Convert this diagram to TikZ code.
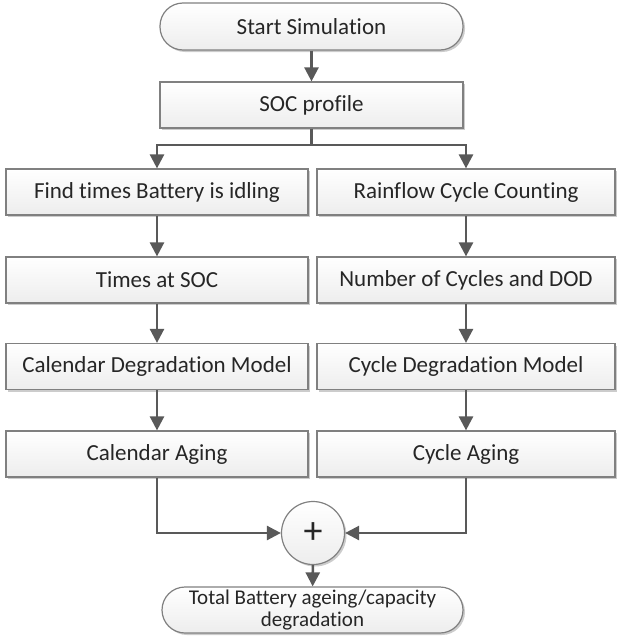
\documentclass[tikz,border=0pt]{standalone}
\usepackage{fontspec}
\setmainfont{Carlito}[Ligatures=NoCommon]
\usetikzlibrary{arrows.meta,shadows}
\definecolor{linegray}{HTML}{595959}
\definecolor{bordergray}{HTML}{808080}
\definecolor{txt}{HTML}{262626}
\tikzset{
  boxstyle/.style={draw=bordergray, line width=1.2pt, top color=white, bottom color=black!7,
    drop shadow={shadow xshift=2pt, shadow yshift=-2pt, opacity=0.2, fill=black},
    inner sep=0pt, text=txt, font=\fontsize{23}{27}\selectfont},
  procbox/.style={boxstyle, rectangle, minimum height=46pt},
  termbox/.style={boxstyle, rectangle, rounded corners=23pt, minimum height=47pt, minimum width=303pt},
  sumnode/.style={boxstyle, circle, minimum size=63pt},
  flow/.style={draw=linegray, line width=2.5pt, -{Triangle[length=14pt,width=14pt]}},
  plain/.style={draw=linegray, line width=2.5pt}
}
\begin{document}
\begin{tikzpicture}[x=1pt,y=1pt]
\useasboundingbox (0,0) rectangle (618,-640);
\node[termbox] (start) at (311.5,-26.5) {Start Simulation};
\node[procbox, minimum width=303pt] (soc) at (311.5,-105) {SOC profile};
\node[procbox, minimum width=302pt] (find) at (157,-192) {Find times Battery is idling};
\node[procbox, minimum width=298pt] (rain) at (466,-192) {Rainflow Cycle Counting};
\node[procbox, minimum width=302pt] (times) at (157,-280) {Times at SOC};
\node[procbox, minimum width=298pt] (ncyc) at (466,-280) {Number of Cycles and DOD};
\node[procbox, minimum width=302pt] (calm) at (157,-366.5) {Calendar Degradation Model};
\node[procbox, minimum width=298pt] (cycm) at (466,-366.5) {Cycle Degradation Model};
\node[procbox, minimum width=302pt] (cala) at (157,-454) {Calendar Aging};
\node[procbox, minimum width=298pt] (cyca) at (466,-454) {Cycle Aging};
\node[sumnode, font=\fontsize{38}{38}\selectfont] (plus) at (313,-533) {+};
\node[termbox, minimum height=46pt, minimum width=301pt, align=center, font=\fontsize{21}{22.5}\selectfont] (total) at (312.5,-610) {Total Battery ageing/capacity\\degradation};
\coordinate (br) at (311.5,-145);
\draw[flow] (start) -- (soc);
\draw[plain] (soc.south) -- (br);
\draw[flow] (br) -| (find.north);
\draw[flow] (br) -| (rain.north);
\draw[flow] (find) -- (times);
\draw[flow] (times) -- (calm);
\draw[flow] (calm) -- (cala);
\draw[flow] (rain) -- (ncyc);
\draw[flow] (ncyc) -- (cycm);
\draw[flow] (cycm) -- (cyca);
\draw[flow] (cala.south) |- (plus.west);
\draw[flow] (cyca.south) |- (plus.east);
\draw[flow] (plus) -- (total);
\end{tikzpicture}
\end{document}
